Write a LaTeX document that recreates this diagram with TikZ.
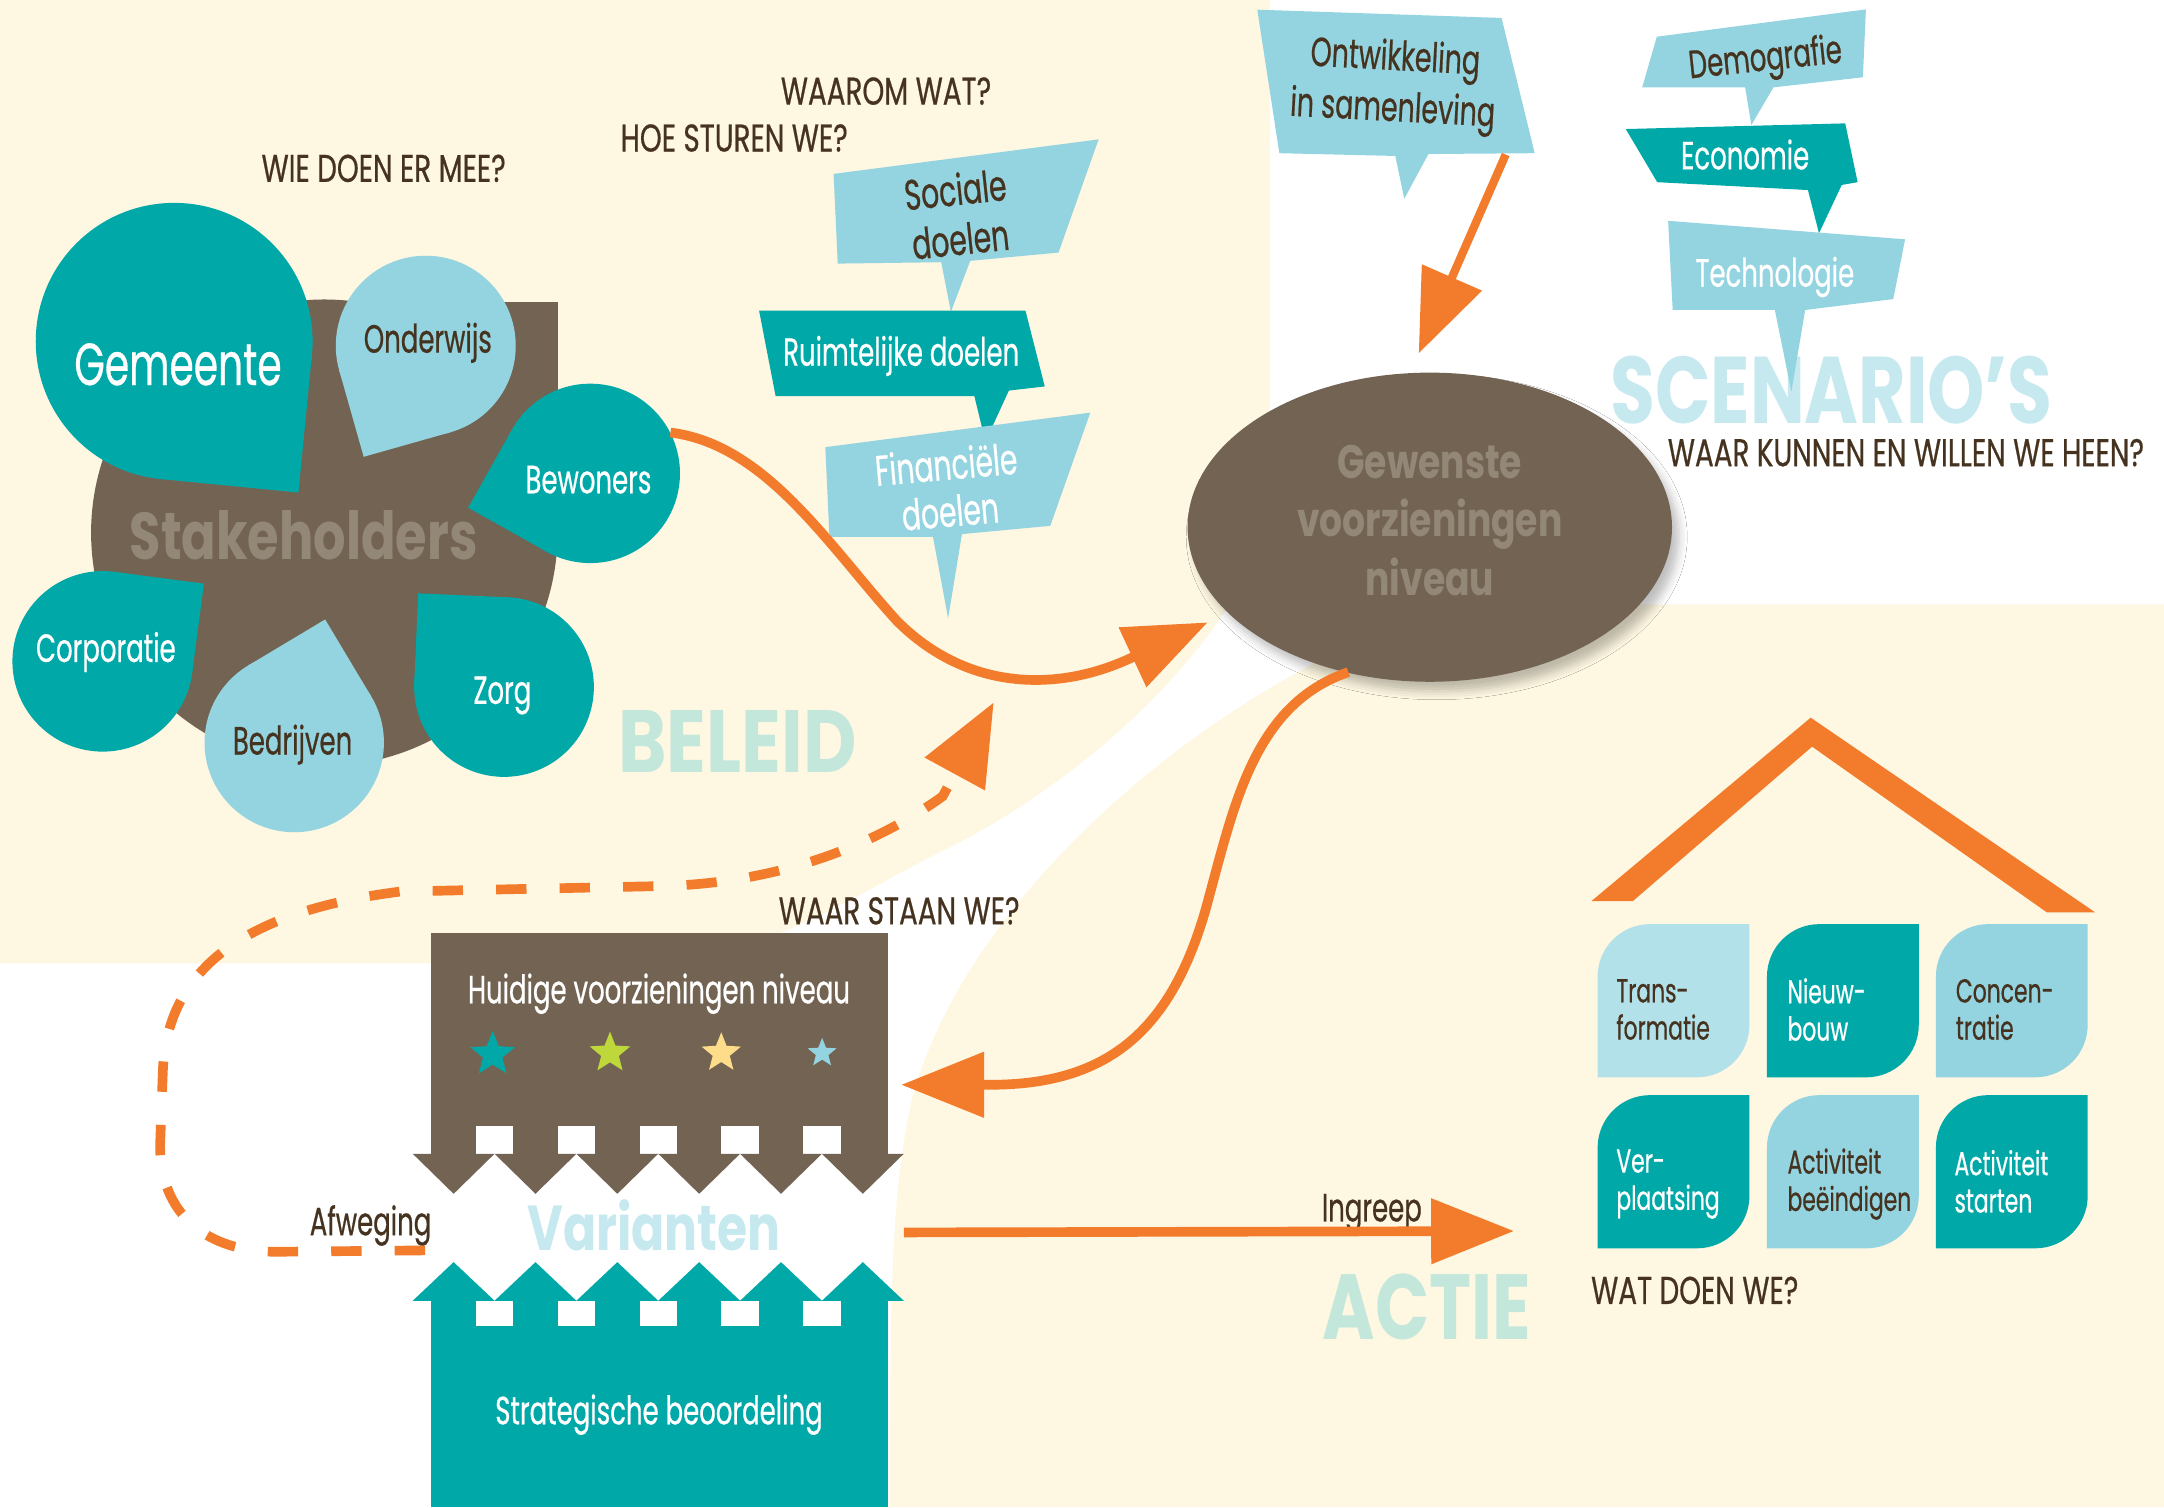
\documentclass[tikz,border=0pt]{standalone}
\usepackage{fontspec}
\usepackage{graphicx}
\setmainfont{Poppins}
\newfontfamily\cond[FakeStretch=0.66,FakeBold=0.5]{Poppins}
\newfontfamily\hd[FakeStretch=0.72,FakeBold=0.5]{Poppins}
\newfontfamily\sten[FakeStretch=0.77]{Poppins}
\usetikzlibrary{arrows.meta,calc,shapes.geometric,shadows.blur}

\definecolor{cream}{HTML}{FEF7E2}
\definecolor{bark}{HTML}{736352}
\definecolor{sea}{HTML}{00A9A8}
\definecolor{sky}{HTML}{93D4E0}
\definecolor{pale}{HTML}{B3E1E9}
\definecolor{tang}{HTML}{F27C2C}
\definecolor{ink}{HTML}{45321F}
\definecolor{mint}{HTML}{C4E7DC}
\definecolor{frost}{HTML}{C6E9EF}
\definecolor{ash}{HTML}{938878}
\definecolor{lime}{HTML}{BED73B}
\definecolor{butter}{HTML}{FDDC8A}

% teardrop: circle node plus a square corner pointing along the given angle
% #1 name, #2 colour, #3 x, #4 y, #5 radius, #6 tip angle
\newcommand\petal[6]{%
  \fill[#2] ($(#3,#4)+(#6:{1.4142*#5})$) -- ($(#3,#4)+({#6+45}:#5)$) -- (#3,#4)
            -- ($(#3,#4)+({#6-45}:#5)$) -- cycle;
  \node[circle, fill=#2, inner sep=0pt, minimum size={2*#5}] (#1) at (#3,#4) {};
}
% action tile: rounded top-left and bottom-right corners
% #1 colour, #2 left x, #3 top y
\newcommand\actiontile[3]{%
  \fill[#1] (#2,#3+111) -- (#2,#3+38) arc[start angle=180,end angle=270,radius=38]
            -- (#2+110,#3) -- (#2+110,#3+73) arc[start angle=0,end angle=90,radius=38] -- cycle;
}

\begin{document}
\begin{tikzpicture}[x=1pt,y=-1pt,
  heading/.style={font=\hd\fontsize{28}{30}\selectfont, text=ink, inner sep=0pt},
  say/.style={font=\cond\fontsize{28.5}{36}\selectfont, inner sep=0pt, align=center},
  tiletxt/.style={font=\cond\fontsize{24}{27}\selectfont, inner sep=0pt, align=left, anchor=west},
  stencil/.style={font=\sten\bfseries\fontsize{#1}{#1}\selectfont, inner sep=0pt},
  flow/.style={draw=tang, line width=7pt, -{Triangle[length=60pt,width=46pt]}},
  loop/.style={draw=tang, line width=7pt, dash pattern=on 22pt off 24pt, -{Triangle[length=59pt,width=48pt]}},
]
\useasboundingbox (0,0) rectangle (1568,1092);
\fill[white] (0,0) rectangle (1568,1092);

% background fields
\fill[cream] (0,0) -- (920,0) -- (920,370) .. controls (905,450) and (800,560) .. (680,618)
  .. controls (620,648) and (560,690) .. (480,698) -- (0,698) -- cycle;
\fill[cream] (1568,438) -- (1060,438) .. controls (900,480) and (700,640) .. (660,800)
  .. controls (645,870) and (645,950) .. (645,1092) -- (1568,1092) -- cycle;

% big stencil words
\node[stencil=64, text=mint] (beleid) at (534.4,537) {\scalebox{1.08}[1]{BELEID}};
\node[stencil=68.6, text=frost] (scen) at (1327,283) {SCENARIO’S};
\node[stencil=67, text=mint] (actie) at (1034,947) {ACTIE};

% questions
\node[heading] (wie) at (278,122) {WIE DOEN ER MEE?};
\node[heading] (waarom) at (642,66) {WAAROM WAT?};
\node[heading] (hoe) at (532,100) {HOE STUREN WE?};
\node[heading] (heen) at (1381,328) {WAAR KUNNEN EN WILLEN WE HEEN?};
\node[heading] (staan) at (651.5,660) {WAAR STAAN WE?};
\node[heading] (watdoen) at (1228,935) {WAT DOEN WE?};

% stakeholders cluster
\fill[bark] (235,386) circle[radius=169];
\fill[bark] (235,219) rectangle (404,386);
\node[stencil=48, text=ash] (stake) at (220,388) {Stakeholders};
\petal{gem}{sea}{126.2}{247.3}{100.3}{50.6}
\petal{ond}{sky}{308.5}{250.5}{65.2}{119.2}
\petal{bew}{sea}{427.7}{343}{65}{164.3}
\petal{corp}{sea}{74.4}{479.2}{65.4}{322.5}
\petal{bedr}{sky}{213.2}{538}{65}{284.1}
\petal{zorg}{sea}{365.2}{497.8}{65.1}{227.5}
\node[say, font=\cond\fontsize{43}{48}\selectfont, text=white] (gemt) at (129,264) {Gemeente};
\node[say, text=ink, anchor=base] (ondt) at (310,255.5) {Onderwijs};
\node[say, text=white] (bewt) at (426.4,347.6) {Bewoners};
\node[say, text=white, anchor=base] (corpt) at (76.7,479.6) {Corporatie};
\node[say, text=ink, anchor=base] (bedrt) at (212,546.7) {Bedrijven};
\node[say, text=white, anchor=base] (zorgt) at (364,510) {Zorg};

% policy goals
\fill[sky] (604,126) -- (796,101) -- (767,183) -- (703,189) -- (689,226) -- (682,190) -- (607,191) -- cycle;
\fill[sea] (550,225) -- (743,225) -- (757,280) -- (731,283) -- (714,320) -- (706,287) -- (562,287) -- cycle;
\fill[sky] (598,324) -- (790,299) -- (761,381) -- (697,387) -- (687,448) -- (676,389) -- (601,389) -- cycle;
\node[say, font=\cond\fontsize{31}{36}\selectfont, text=ink, rotate=6] (soc) at (694,155) {Sociale\\doelen};
\node[say, text=white, anchor=base] (ruim) at (653,265) {Ruimtelijke doelen};
\node[say, font=\cond\fontsize{31}{34}\selectfont, text=white, rotate=5] (fin) at (687,353) {Financiële\\doelen};

% trends
\fill[sky] (911,7) -- (1088,13) -- (1112,111) -- (1035,111.6) -- (1017.5,144) -- (1011,113) -- (927,111) -- cycle;
\node[say, font=\cond\fontsize{29.5}{37}\selectfont, text=ink, rotate=-3] (ontw) at (1010,62) {Ontwikkeling\\in samenleving};
\fill[sky] (1200.5,26.6) -- (1352,6.8) -- (1349.8,56) -- (1285,63.3) -- (1269,90.6) -- (1264.5,63.3) -- (1189.9,63.3) -- cycle;
\fill[sea] (1178,93.5) -- (1337,89.4) -- (1346,132) -- (1334.5,134) -- (1318,169) -- (1310,137.7) -- (1200.8,132) -- cycle;
\fill[sky] (1208.7,160) -- (1380.4,173.4) -- (1371.8,216.7) -- (1308,224.6) -- (1298,283.8) -- (1286,224.6) -- (1212,224.6) -- cycle;
\node[say, text=ink, rotate=6, anchor=base] (demo) at (1280,51) {Demografie};
\node[say, text=white] (eco) at (1264.5,112) {Economie};
\node[say, text=white, anchor=base] (tech) at (1286,207.7) {Technologie};

% desired level
\node[ellipse, fill=bark, minimum width=351pt, minimum height=224pt, inner sep=0pt,
  blur shadow={shadow xshift=5pt, shadow yshift=-7pt, shadow opacity=25, shadow blur radius=6pt}] (gew) at (1036,382) {};
\node[align=center, text=ash, inner sep=0pt, font=\sten\bfseries\fontsize{34}{42.5}\selectfont] (gewt) at (1036,377)
  {Gewenste\\voorzieningen\\niveau};

% current level block with downward arrows
\node[fill=bark, inner sep=0pt, minimum width=331pt, minimum height=160pt, anchor=north west] (huidig) at (312,676) {};
\foreach \i in {0,...,4}
  \fill[white] ({344.85+59.3*\i},816) rectangle ({371.85+59.3*\i},836);
\foreach \i in {0,...,5}
  \fill[bark] ({299.05+59.3*\i},836) -- ({358.35+59.3*\i},836) -- ({328.7+59.3*\i},865) -- cycle;
\node[say, text=white, anchor=base] (huidigt) at (477.5,727) {Huidige voorzieningen niveau};
\node[star, star points=5, star point ratio=2.3, fill=sea, inner sep=0pt, minimum size=34pt] (s1) at (357,764) {};
\node[star, star points=5, star point ratio=2.3, fill=lime, inner sep=0pt, minimum size=31pt] (s2) at (442,763) {};
\node[star, star points=5, star point ratio=2.3, fill=butter, inner sep=0pt, minimum size=30pt] (s3) at (522.6,763) {};
\node[star, star points=5, star point ratio=2.3, fill=sky, inner sep=0pt, minimum size=22pt] (s4) at (595.7,763) {};

\node[stencil=46, text=frost] (var) at (474,888) {Varianten};

% strategic assessment block with upward arrows
\node[fill=sea, inner sep=0pt, minimum width=331pt, minimum height=149.5pt, anchor=north west] (strat) at (312,942.5) {};
\foreach \i in {0,...,4}
  \fill[white] ({344.85+59.3*\i},942.5) rectangle ({371.85+59.3*\i},961);
\foreach \i in {0,...,5}
  \fill[sea] ({299.05+59.3*\i},942.5) -- ({358.35+59.3*\i},942.5) -- ({328.7+59.3*\i},914.5) -- cycle;
\node[say, text=white, anchor=base] (stratt) at (477.5,1032) {Strategische beoordeling};

\node[say, text=ink, anchor=base] (afw) at (268.5,895) {Afweging};
\node[say, text=ink, anchor=base] (ingr) at (994,885) {Ingreep};

% house of interventions
\fill[tang] (1153,653) -- (1312,520) -- (1518,661) -- (1483,661) -- (1313,541) -- (1183,653) -- cycle;
\actiontile{pale}{1157.6}{669.6}
\actiontile{sea}{1280.3}{669.6}
\actiontile{sky}{1402.7}{669.6}
\actiontile{sea}{1157.6}{793.5}
\actiontile{sky}{1280.3}{793.5}
\actiontile{sea}{1402.7}{793.5}
\node[tiletxt, text=ink] (t1) at (1171,731.5) {Trans-\\formatie};
\node[tiletxt, text=white] (t2) at (1295,731.5) {Nieuw-\\bouw};
\node[tiletxt, text=ink] (t3) at (1417,731.5) {Concen-\\tratie};
\node[tiletxt, text=white] (t4) at (1171,858) {Ver-\\plaatsing};
\node[tiletxt, text=ink] (t5) at (1295,858) {Activiteit\\beëindigen};
\node[tiletxt, text=white] (t6) at (1416,856) {Activiteit\\starten};

% connector ends
\coordinate (gew-w) at (875,451);
\coordinate (gew-n) at (1028,256);
\coordinate (gew-s) at (977,487);
\coordinate (ontw-out) at (1091,112);
\coordinate (huidig-in) at (653,786);
\coordinate (ingr-from) at (655,893);
\coordinate (house-in) at (1097,892);
\coordinate (afw-out) at (308,906);
\coordinate (loop-tip) at (720,509);

% connectors
\draw[flow] (bew.27) .. controls (555,322) and (600,395) .. (650,450)
  .. controls (700,500) and (765,502) .. (819,477) -- (gew-w);
\draw[flow, line width=6pt] (ontw-out) -- (gew-n);
\draw[flow] (gew-s) .. controls (910,510) and (895,580) .. (876,650)
  .. controls (850,750) and (800,787) .. (713.6,786) -- (huidig-in);
\draw[flow] (ingr-from) -- (house-in);
\draw[loop] (afw-out) -- (200,907) .. controls (150,907) and (116,880) .. (116,830) -- (118,776)
  .. controls (121,700) and (180,660) .. (290,646) -- (480,642)
  .. controls (560,640) and (630,615) .. (683,577) -- (loop-tip);
\end{tikzpicture}
\end{document}
